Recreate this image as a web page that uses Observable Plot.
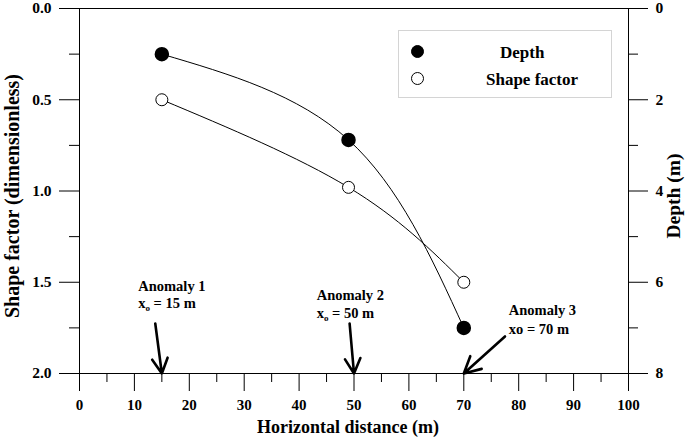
<!DOCTYPE html>
<html>
<head>
<meta charset="utf-8">
<script src="https://cdn.jsdelivr.net/npm/d3@7"></script>
<script src="https://cdn.jsdelivr.net/npm/@observablehq/plot@0.6"></script>
<style>
  html, body { margin: 0; padding: 0; background: white; }
  #wrap { position: relative; width: 685px; height: 437px; font-family: "Liberation Serif", "Times New Roman", serif; font-weight: bold; }
  #legend { position: absolute; left: 398px; top: 30px; width: 212px; height: 66px; border: 1px solid #d4d4d4; background: white; }
  .lg-item { position: absolute; font-size: 17px; line-height: 17px; color: black; white-space: nowrap; }
  .lg-dot { position: absolute; width: 13px; height: 13px; border-radius: 50%; box-sizing: border-box; }
</style>
</head>
<body>
<div id="wrap">
  <div id="chart"></div>
  <div id="legend"></div>
</div>
<script>
// ---- data ----
const distance = [15, 49, 70];                 // horizontal distance (m)
const depthM = [1.0, 2.88, 7.0];               // depth (m), right axis
const shapeFactor = [0.5, 0.98, 1.5];          // shape factor, left axis
const depthPerShapeUnit = 4;                   // right axis 0–8 m vs left axis 0–2

const xTicks = [0, 10, 20, 30, 40, 50, 60, 70, 80, 90, 100];
const xMinorTicks = [5, 15, 25, 35, 45, 55, 65, 75, 85, 95];
const yTicks = [0, 0.5, 1.0, 1.5, 2.0];
const yMinorTicks = [0.25, 0.75, 1.25, 1.75];

const anomalyName = ["Anomaly 1", "Anomaly 2", "Anomaly 3"];
const anomalyPos = ["xo = 15 m", "xo = 50 m", "xo = 70 m"];
const anomalySubscript = [true, true, false];
const anomalyX = [15, 50, 70];
const labelX = [10.7, 43.2, 78.2];
const labelY1 = [1.52, 1.571, 1.653];
const labelY2 = [1.615, 1.67, 1.757];
const arrowFromX = [13.8, 49.2, 77.5];
const arrowFromY = [1.726, 1.726, 1.797];
const arrowToY = [2.0, 2.0, 2.0];

const legendNames = ["Depth", "Shape factor"];

// ---- tables ----
const depthData = distance.map((d, i) => ({x: d, y: depthM[i] / depthPerShapeUnit}));
const shapeData = distance.map((d, i) => ({x: d, y: shapeFactor[i]}));
const anomalies = anomalyName.map((n, i) => ({
  name: n, pos: anomalyPos[i], lx: labelX[i], ly1: labelY1[i], ly2: labelY2[i],
  x1: arrowFromX[i], y1: arrowFromY[i], x2: anomalyX[i], y2: arrowToY[i]
}));

const fmt1 = d3.format(".1f");

const chart = Plot.plot({
  width: 685,
  height: 437,
  marginLeft: 79,
  marginRight: 57,
  marginTop: 8,
  marginBottom: 64,
  x: {domain: [0, 100], axis: null},
  y: {domain: [0, 2], reverse: true, axis: null},
  style: {fontFamily: "Liberation Serif", fontWeight: "bold", fontSize: "15px", background: "white", color: "black", overflow: "visible"},
  marks: [
    Plot.frame({stroke: "black", strokeWidth: 1}),
    // bottom axis
    Plot.axisX({ticks: xTicks, tickSize: 18, tickPadding: 8, fontSize: 15, label: null, stroke: "black"}),
    Plot.axisX({ticks: xMinorTicks, tickSize: 9, tickFormat: () => "", label: null, stroke: "black"}),
    // left axis
    Plot.axisY({anchor: "left", ticks: yTicks, tickSize: 20, tickPadding: 8, tickFormat: fmt1, fontSize: 15.5, label: null, stroke: "black"}),
    Plot.axisY({anchor: "left", ticks: yMinorTicks, tickSize: 10, tickFormat: () => "", label: null, stroke: "black"}),
    // right axis (depth in m)
    Plot.axisY({anchor: "right", ticks: yTicks, tickSize: 19, tickPadding: 8, tickFormat: d => d * depthPerShapeUnit, fontSize: 15.5, label: null, stroke: "black"}),
    Plot.axisY({anchor: "right", ticks: yMinorTicks, tickSize: 9, tickFormat: () => "", label: null, stroke: "black"}),
    // axis titles
    Plot.text(["Horizontal distance (m)"], {frameAnchor: "bottom", dx: -6, dy: 54, fontSize: 18, fontWeight: "bold", lineAnchor: "middle", textAnchor: "middle"}),
    Plot.text(["Shape factor (dimensionless)"], {frameAnchor: "left", dx: -67, dy: 5, rotate: -90, fontSize: 20, fontWeight: "bold", lineAnchor: "middle", textAnchor: "middle"}),
    Plot.text(["Depth (m)"], {frameAnchor: "right", dx: 45, dy: 5, rotate: -90, fontSize: 19.5, fontWeight: "bold", lineAnchor: "middle", textAnchor: "middle"}),
    // curves
    Plot.line(depthData, {x: "x", y: "y", curve: "natural", stroke: "black", strokeWidth: 1}),
    Plot.line(shapeData, {x: "x", y: "y", curve: "natural", stroke: "black", strokeWidth: 1}),
    Plot.dot(depthData, {x: "x", y: "y", r: 6.5, fill: "black", stroke: "black"}),
    Plot.dot(shapeData, {x: "x", y: "y", r: 6, fill: "white", stroke: "black", strokeWidth: 1}),
    // anomaly annotations
    Plot.arrow(anomalies, {x1: "x1", y1: "y1", x2: "x2", y2: "y2", stroke: "black", strokeWidth: 2.6, headLength: 11, headAngle: 55}),
    Plot.text(anomalies, {x: "lx", y: "ly1", text: "name", textAnchor: "start", fontSize: 14.5, fontWeight: "bold"}),
    Plot.text(anomalies, {x: "lx", y: "ly2", text: "pos", textAnchor: "start", fontSize: 14.5, fontWeight: "bold"})
  ]
});
document.getElementById("chart").appendChild(chart);

// subscript "o" in x_o
d3.select(chart).selectAll("text").each(function() {
  const t = d3.select(this);
  const i = anomalyPos.indexOf(t.text());
  if (i < 0 || !anomalySubscript[i]) return;
  const rest = anomalyPos[i].slice(2);
  t.text(null);
  t.append("tspan").text("x");
  t.append("tspan").attr("font-size", 9).attr("dy", 3).text("o");
  t.append("tspan").attr("dy", -3).text(rest);
});

// legend
const legend = document.getElementById("legend");
const lgRows = [
  {name: legendNames[0], fill: "black", top: 15, textLeft: 101},
  {name: legendNames[1], fill: "white", top: 42, textLeft: 87}
];
lgRows.forEach(r => {
  const dot = document.createElement("div");
  dot.className = "lg-dot";
  dot.style.left = "12px";
  dot.style.top = (r.top - 1) + "px";
  dot.style.background = r.fill;
  dot.style.border = "1px solid black";
  legend.appendChild(dot);
  const t = document.createElement("div");
  t.className = "lg-item";
  t.style.left = r.textLeft + "px";
  t.style.top = (r.top - 2) + "px";
  t.textContent = r.name;
  legend.appendChild(t);
});
</script>
</body>
</html>
